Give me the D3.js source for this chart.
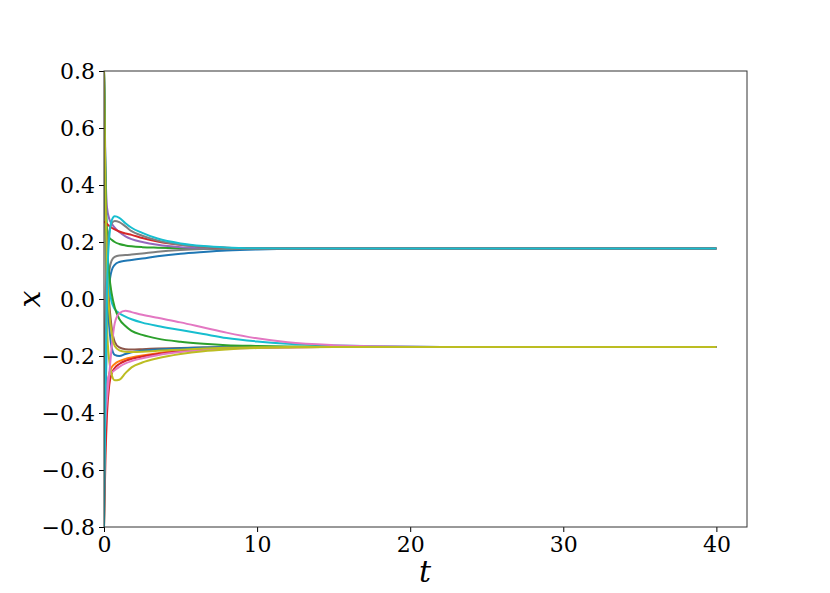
<!DOCTYPE html>
<html>
<head>
<meta charset="utf-8">
<script src="https://cdn.jsdelivr.net/npm/d3@7"></script>
<style>
  html, body { margin: 0; padding: 0; background: #fff; }
  svg { display: block; }
</style>
</head>
<body>
<svg id="chart" width="830" height="593"></svg>
<script>
// ---- data ----
const times = [0, 0.1, 0.2, 0.35, 0.5, 0.7, 1, 1.4, 1.8, 2.5, 3.5, 5, 6.5, 8, 10, 12, 15, 18, 22, 30, 40];

const blueUpper   = [-0.8, -0.35, -0.1, 0.05, 0.1, 0.12, 0.13, 0.134, 0.137, 0.142, 0.15, 0.159, 0.165, 0.17, 0.174, 0.176, 0.177, 0.177, 0.177, 0.177, 0.177];
const orangeLower = [-0.8, -0.45, -0.32, -0.26, -0.24, -0.228, -0.218, -0.21, -0.205, -0.198, -0.19, -0.181, -0.176, -0.172, -0.17, -0.169, -0.168, -0.168, -0.168, -0.168, -0.168];
const greenUpper  = [0.8, 0.35, 0.24, 0.215, 0.208, 0.2, 0.193, 0.188, 0.185, 0.182, 0.18, 0.178, 0.177, 0.177, 0.177, 0.177, 0.177, 0.177, 0.177, 0.177, 0.177];
const redLower    = [-0.8, -0.55, -0.4, -0.3, -0.262, -0.242, -0.228, -0.217, -0.21, -0.202, -0.193, -0.183, -0.177, -0.173, -0.17, -0.169, -0.168, -0.168, -0.168, -0.168, -0.168];
const purpleUpper = [0.8, 0.45, 0.32, 0.28, 0.265, 0.25, 0.235, 0.22, 0.21, 0.2, 0.19, 0.182, 0.179, 0.178, 0.177, 0.177, 0.177, 0.177, 0.177, 0.177, 0.177];
const brownLower  = [0.8, 0.3, 0.1, -0.02, -0.1, -0.15, -0.17, -0.176, -0.177, -0.176, -0.174, -0.172, -0.17, -0.169, -0.168, -0.168, -0.168, -0.168, -0.168, -0.168, -0.168];
const pinkLower   = [-0.53, -0.38, -0.3, -0.265, -0.258, -0.25, -0.238, -0.226, -0.218, -0.208, -0.197, -0.186, -0.179, -0.174, -0.171, -0.169, -0.168, -0.168, -0.168, -0.168, -0.168];
const grayLower   = [-0.6, -0.2, 0.0, 0.1, 0.135, 0.148, 0.153, 0.154, 0.156, 0.16, 0.166, 0.172, 0.175, 0.176, 0.177, 0.177, 0.177, 0.177, 0.177, 0.177, 0.177];
const oliveLower  = [0.8, 0.2, -0.1, -0.22, -0.265, -0.285, -0.283, -0.26, -0.24, -0.223, -0.208, -0.193, -0.183, -0.177, -0.172, -0.17, -0.168, -0.168, -0.168, -0.168, -0.168];
const cyanLower   = [0.8, 0.4, 0.15, 0.04, -0.01, -0.035, -0.05, -0.062, -0.071, -0.083, -0.095, -0.109, -0.123, -0.137, -0.149, -0.157, -0.163, -0.166, -0.168, -0.168, -0.168];
const blueLower   = [0.8, 0.3, 0.05, -0.1, -0.17, -0.196, -0.2, -0.193, -0.187, -0.181, -0.177, -0.173, -0.17, -0.169, -0.168, -0.168, -0.168, -0.168, -0.168, -0.168, -0.168];
const greenLower  = [0.8, 0.4, 0.2, 0.08, 0.02, -0.03, -0.07, -0.095, -0.112, -0.126, -0.139, -0.15, -0.157, -0.162, -0.165, -0.167, -0.168, -0.168, -0.168, -0.168, -0.168];
const redUpper    = [0.272, 0.268, 0.263, 0.256, 0.25, 0.244, 0.237, 0.23, 0.225, 0.214, 0.202, 0.19, 0.183, 0.18, 0.178, 0.177, 0.177, 0.177, 0.177, 0.177, 0.177];
const pinkUpper   = [-0.55, -0.42, -0.35, -0.26, -0.17, -0.085, -0.05, -0.041, -0.046, -0.055, -0.066, -0.082, -0.1, -0.118, -0.138, -0.152, -0.162, -0.166, -0.168, -0.168, -0.168];
const grayUpper   = [-0.3, 0.0, 0.15, 0.24, 0.265, 0.274, 0.27, 0.255, 0.238, 0.222, 0.205, 0.19, 0.183, 0.179, 0.177, 0.177, 0.177, 0.177, 0.177, 0.177, 0.177];
const oliveUpper  = [0.8, 0.35, 0.1, -0.05, -0.12, -0.165, -0.18, -0.185, -0.186, -0.185, -0.182, -0.178, -0.174, -0.171, -0.169, -0.168, -0.168, -0.168, -0.168, -0.168, -0.168];
const cyanUpper   = [-0.8, -0.3, 0.05, 0.22, 0.275, 0.29, 0.285, 0.266, 0.25, 0.232, 0.212, 0.195, 0.186, 0.181, 0.178, 0.177, 0.177, 0.177, 0.177, 0.177, 0.177];

const xTicks = [0, 10, 20, 30, 40];
const yTicks = [-0.8, -0.6, -0.4, -0.2, 0.0, 0.2, 0.4, 0.6, 0.8];

const seriesList = [
  [blueUpper, "#1f77b4"], [orangeLower, "#ff7f0e"], [greenUpper, "#2ca02c"], [redLower, "#d62728"],
  [purpleUpper, "#9467bd"], [brownLower, "#8c564b"], [pinkLower, "#e377c2"], [grayLower, "#7f7f7f"],
  [oliveLower, "#bcbd22"], [cyanLower, "#17becf"], [blueLower, "#1f77b4"], [greenLower, "#2ca02c"],
  [redUpper, "#d62728"], [pinkUpper, "#e377c2"], [grayUpper, "#7f7f7f"], [oliveUpper, "#bcbd22"],
  [cyanUpper, "#17becf"]
];

// ---- layout ----
const FONT = "DejaVu Serif";
const L = 104, R = 747, T = 71, B = 527;
const svg = d3.select("#chart");
const x = d3.scaleLinear().domain([0, 42]).range([L, R]);
const y = d3.scaleLinear().domain([-0.8, 0.8]).range([B, T]);

svg.append("defs").append("clipPath").attr("id", "clip")
  .append("rect").attr("x", L).attr("y", T).attr("width", R - L).attr("height", B - T);

const line = d3.line()
  .x(d => x(d[0])).y(d => y(d[1]))
  .curve(d3.curveMonotoneX);

const g = svg.append("g").attr("clip-path", "url(#clip)");
seriesList.forEach(([vals, color]) => {
  g.append("path")
    .datum(times.map((t, i) => [t, vals[i]]))
    .attr("d", line)
    .attr("fill", "none")
    .attr("stroke", color)
    .attr("stroke-width", 2)
    .attr("stroke-linejoin", "round");
});

// axes
const fmtY = d => (d < 0 ? "\u2212" : "") + Math.abs(d).toFixed(1);
const yAxis = d3.axisLeft(y).tickValues(yTicks).tickFormat(fmtY).tickSize(5).tickPadding(4);
const xAxis = d3.axisBottom(x).tickValues(xTicks).tickFormat(d3.format("d")).tickSize(5).tickPadding(4);

const ya = svg.append("g").attr("transform", `translate(${L},0)`).call(yAxis);
const xa = svg.append("g").attr("transform", `translate(0,${B})`).call(xAxis);
[ya, xa].forEach(a => {
  a.attr("font-family", FONT).attr("font-size", 22);
  a.select(".domain").remove();
  a.selectAll(".tick line").attr("stroke", "#000").attr("stroke-width", 1);
  a.selectAll(".tick text").attr("font-family", FONT).attr("font-size", 22).attr("fill", "#000");
});

// frame
svg.append("rect").attr("x", L).attr("y", T).attr("width", R - L).attr("height", B - T)
  .attr("fill", "none").attr("stroke", "#333").attr("stroke-width", 1);

// axis labels
svg.append("text").attr("x", 425).attr("y", 582).attr("text-anchor", "middle")
  .attr("font-family", FONT).attr("font-style", "italic")
  .attr("font-size", 30).text("t");
svg.append("text").attr("transform", "translate(40,299) rotate(-90)").attr("text-anchor", "middle")
  .attr("font-family", FONT).attr("font-style", "italic")
  .attr("font-size", 30).text("x");
</script>
</body>
</html>
